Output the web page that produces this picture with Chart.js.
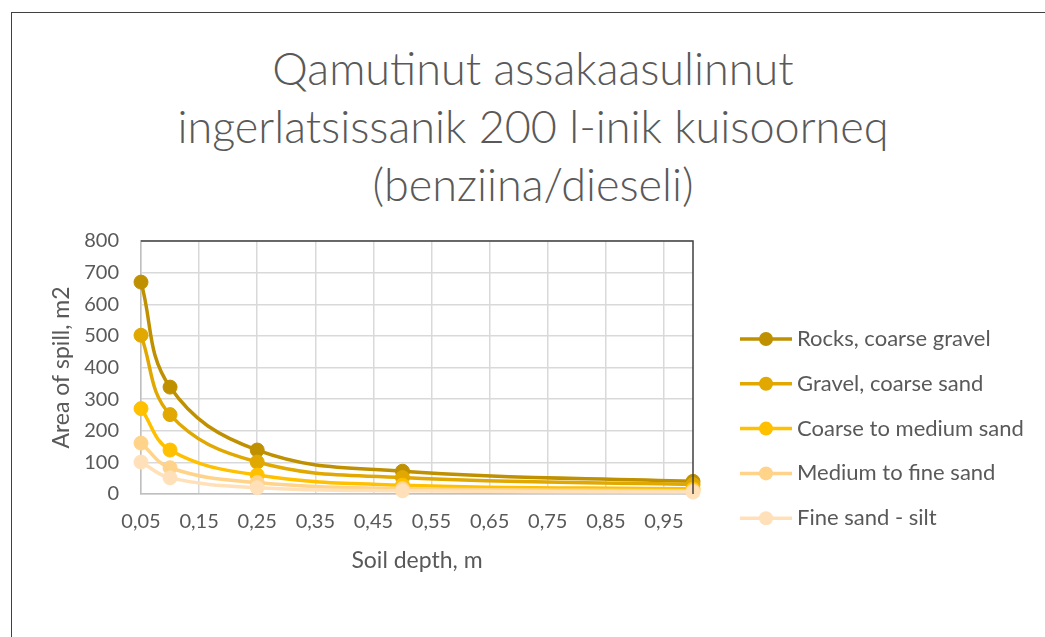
<!DOCTYPE html>
<html>
<head>
<meta charset="utf-8">
<script src="https://cdn.jsdelivr.net/npm/chart.js@4.4.0/dist/chart.umd.min.js"></script>
<style>
    body { margin: 0; background: #fff; width: 1045px; height: 637px; overflow: hidden; position: relative; font-family: Lato, sans-serif; }
    #frame { position: absolute; left: 11px; top: 12px; width: 1100px; height: 700px; border: 1.5px solid #404040; }
    #title { position: absolute; left: 0; top: 39px; width: 1066px; text-align: center; font-size: 45px; line-height: 58px; color: #595959; font-weight: 300; }
    #wrap { position: absolute; left: 0; top: 0; width: 1045px; height: 637px; }
</style>
</head>
<body>
<div id="frame"></div>
<div id="title">Qamutinut assakaasulinnut<br>ingerlatsissanik 200 l-inik kuisoorneq<br>(benziina/dieseli)</div>
<div id="wrap"><canvas id="chart" width="1045" height="637"></canvas></div>
<script>
// Data
const soilDepth = [0.05, 0.1, 0.25, 0.5, 1.0];
const rocksCoarseGravel = [670, 338, 139, 72, 40];
const gravelCoarseSand = [502, 251, 101, 52, 30];
const coarseMediumSand = [270, 139, 60, 28, 16];
const mediumFineSand = [161, 83, 36, 17, 10];
const fineSandSilt = [101, 51, 20, 10, 6];

const seriesNames = ['Rocks, coarse gravel', 'Gravel, coarse sand', 'Coarse to medium sand', 'Medium to fine sand', 'Fine sand - silt'];
const seriesColors = ['#BF9000', '#E0A800', '#FFC000', '#FFD38A', '#FFE0B8'];
const seriesValues = [rocksCoarseGravel, gravelCoarseSand, coarseMediumSand, mediumFineSand, fineSandSilt];

const xTicks = [0.05, 0.15, 0.25, 0.35, 0.45, 0.55, 0.65, 0.75, 0.85, 0.95];
const yTicks = [0, 100, 200, 300, 400, 500, 600, 700, 800];

const textColor = '#595959';
const gridColor = '#D9D9D9';

// Plot area border (top and right are dark in the original)
const plotBorder = {
    id: 'plotBorder',
    afterDatasetsDraw(chart) {
        const { ctx, chartArea } = chart;
        ctx.save();
        ctx.strokeStyle = '#404040';
        ctx.lineWidth = 1.5;
        ctx.beginPath();
        ctx.moveTo(chartArea.left, chartArea.top);
        ctx.lineTo(chartArea.right, chartArea.top);
        ctx.lineTo(chartArea.right, chartArea.bottom);
        ctx.stroke();
        ctx.restore();
    }
};

// Legend with line + marker, drawn to the right of the plot
const lineLegend = {
    id: 'lineLegend',
    afterDraw(chart) {
        const { ctx, chartArea } = chart;
        const x0 = chartArea.right + 47;
        ctx.save();
        ctx.font = '22px Lato, sans-serif';
        ctx.textBaseline = 'middle';
        chart.data.datasets.forEach((ds, i) => {
            const y = 339 + i * 44.8;
            ctx.strokeStyle = ds.borderColor;
            ctx.lineWidth = 3.5;
            ctx.beginPath();
            ctx.moveTo(x0, y);
            ctx.lineTo(x0 + 52, y);
            ctx.stroke();
            ctx.fillStyle = ds.borderColor;
            ctx.beginPath();
            ctx.arc(x0 + 26, y, 7, 0, Math.PI * 2);
            ctx.fill();
            ctx.fillStyle = textColor;
            ctx.fillText(ds.label, x0 + 57, y);
        });
        ctx.restore();
    }
};

const datasets = seriesNames.map((name, i) => ({
    label: name,
    data: soilDepth.map((x, j) => ({ x: x, y: seriesValues[i][j] })),
    borderColor: seriesColors[i],
    backgroundColor: seriesColors[i],
    pointBackgroundColor: seriesColors[i],
    pointBorderColor: seriesColors[i],
    borderWidth: 3.5,
    pointRadius: 7,
    pointBorderWidth: 1,
    tension: 0.4,
    fill: false,
    clip: false,
    order: seriesNames.length - i
}));

new Chart(document.getElementById('chart'), {
    type: 'line',
    data: { datasets: datasets },
    options: {
        responsive: false,
        animation: false,
        layout: { padding: { left: 44, top: 241, right: 352, bottom: 59 } },
        plugins: {
            legend: { display: false },
            tooltip: { enabled: false }
        },
        scales: {
            x: {
                type: 'linear',
                min: 0.05,
                max: 1.0,
                afterBuildTicks: scale => { scale.ticks = xTicks.map(v => ({ value: v })); },
                afterFit: scale => { scale.height = 84; },
                ticks: {
                    autoSkip: false,
                    maxRotation: 0,
                    padding: 16,
                    color: textColor,
                    font: { family: 'Lato', size: 20 },
                    callback: v => v.toFixed(2).replace('.', ',')
                },
                grid: { color: gridColor, lineWidth: 1.5, drawTicks: false },
                border: { color: '#BFBFBF', width: 1.5 },
                title: { display: true, text: 'Soil depth, m', color: textColor, font: { family: 'Lato', size: 23 } }
            },
            y: {
                min: 0,
                max: 800,
                afterBuildTicks: scale => { scale.ticks = yTicks.map(v => ({ value: v })); },
                afterFit: scale => { scale.width = 97; },
                ticks: {
                    padding: 22,
                    color: textColor,
                    font: { family: 'Lato', size: 20 }
                },
                grid: { color: gridColor, lineWidth: 1.5, drawTicks: false },
                border: { color: '#BFBFBF', width: 1.5 },
                title: { display: true, text: 'Area of spill, m2', color: textColor, font: { family: 'Lato', size: 23 } }
            }
        }
    },
    plugins: [plotBorder, lineLegend]
});
</script>
</body>
</html>
